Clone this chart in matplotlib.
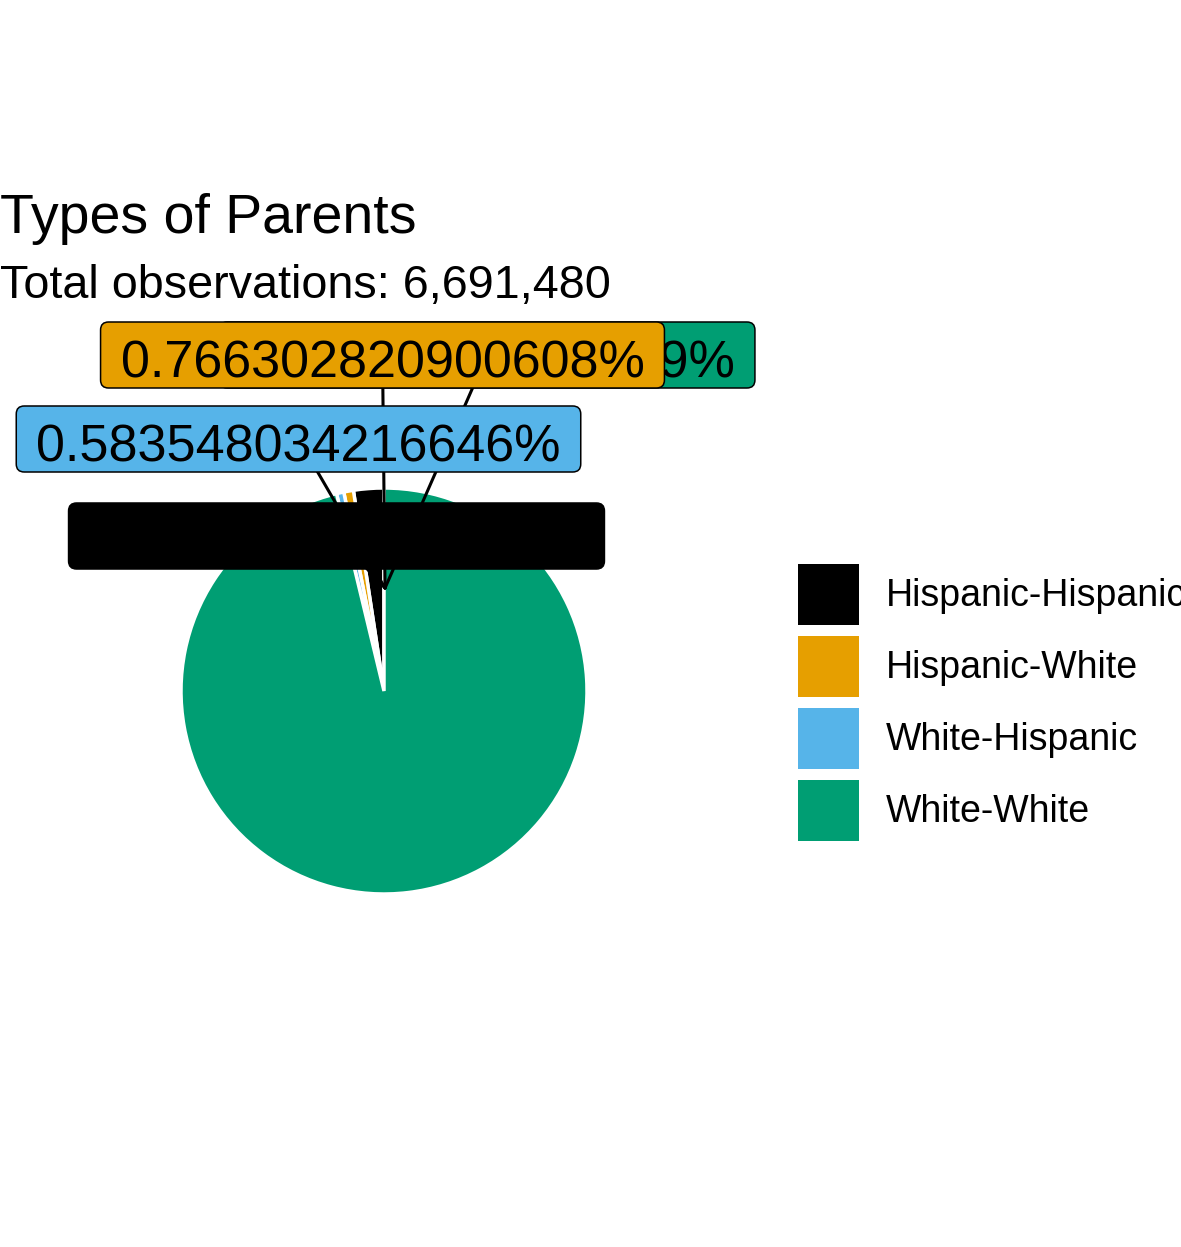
import matplotlib
matplotlib.use("Agg")
import matplotlib.pyplot as plt
from matplotlib.patches import Patch, FancyBboxPatch, ConnectionPatch
from matplotlib.transforms import IdentityTransform

plt.rcParams['font.family'] = ['Liberation Sans', 'DejaVu Sans']

# data
parent_types = ['Hispanic-Hispanic', 'Hispanic-White', 'White-Hispanic', 'White-White']
pct_values = [2.41028213402985, 0.766302820900608, 0.583548034216646, 96.2398670108529]
total_obs = 6691480
colors = ['#000000', '#E69F00', '#56B4E9', '#009E73']

W, H = 1181, 1247
fig = plt.figure(figsize=(W / 100, H / 100), dpi=100)

# pie panel (406 px square)
ax = fig.add_axes([181 / W, (H - 894) / H, 406 / W, 406 / H])
ax.pie(pct_values, colors=colors, startangle=90, counterclock=True, radius=1,
       wedgeprops=dict(edgecolor='white', linewidth=2.5))
ax.set_xlim(-1, 1)
ax.set_ylim(-1, 1)
ax.set_aspect('equal')
ax.axis('off')

fig.text(0, 1 - 233 / H, 'Types of Parents', fontsize=40, va='baseline', ha='left')
fig.text(0, 1 - 298 / H, 'Total observations: {:,}'.format(total_obs), fontsize=33.7,
         va='baseline', ha='left')

# repelled labels: box centres in pixels from the top, drawing order
label_centres = {3: (487, 355), 2: (298.5, 439), 1: (382.5, 355), 0: (336.5, 536)}
draw_order = [3, 2, 1, 0]
anchor = (0.005, 0.507)  # where the segments meet, in pie data units
box_h = 66

texts = []
for k, i in enumerate(draw_order):
    cx, cy = label_centres[i]
    seg = ConnectionPatch(xyA=(cx, H - cy), coordsA='figure pixels',
                          xyB=anchor, coordsB=ax.transData,
                          color='black', linewidth=2.2, zorder=0.5)
    fig.add_artist(seg)
    t = fig.text(cx / W, 1 - (cy + 8.5) / H, '{:.15g}%'.format(pct_values[i]), fontsize=37.5,
                 ha='center', va='center', color='black', zorder=1.05 + k * 0.1)
    texts.append((k, i, t))

fig.canvas.draw()
renderer = fig.canvas.get_renderer()
for k, i, t in texts:
    bb = t.get_window_extent(renderer)
    cy = label_centres[i][1]
    box = FancyBboxPatch((bb.x0 - 20, H - cy - box_h / 2), bb.width + 40, box_h,
                         boxstyle='round,pad=0,rounding_size=8',
                         facecolor=colors[i], edgecolor='black', linewidth=1.1,
                         transform=IdentityTransform(), zorder=1 + k * 0.1)
    fig.add_artist(box)

handles = [Patch(facecolor=c, edgecolor='none') for c in colors]
fig.legend(handles, parent_types, loc='upper left',
           bbox_to_anchor=(798 / W, 1 - 564 / H), bbox_transform=fig.transFigure,
           frameon=False, fontsize=27, handlelength=1.626, handleheight=2.125,
           labelspacing=0.29, handletextpad=0.72, borderpad=0, borderaxespad=0)

fig.savefig('out.png', dpi=100)
